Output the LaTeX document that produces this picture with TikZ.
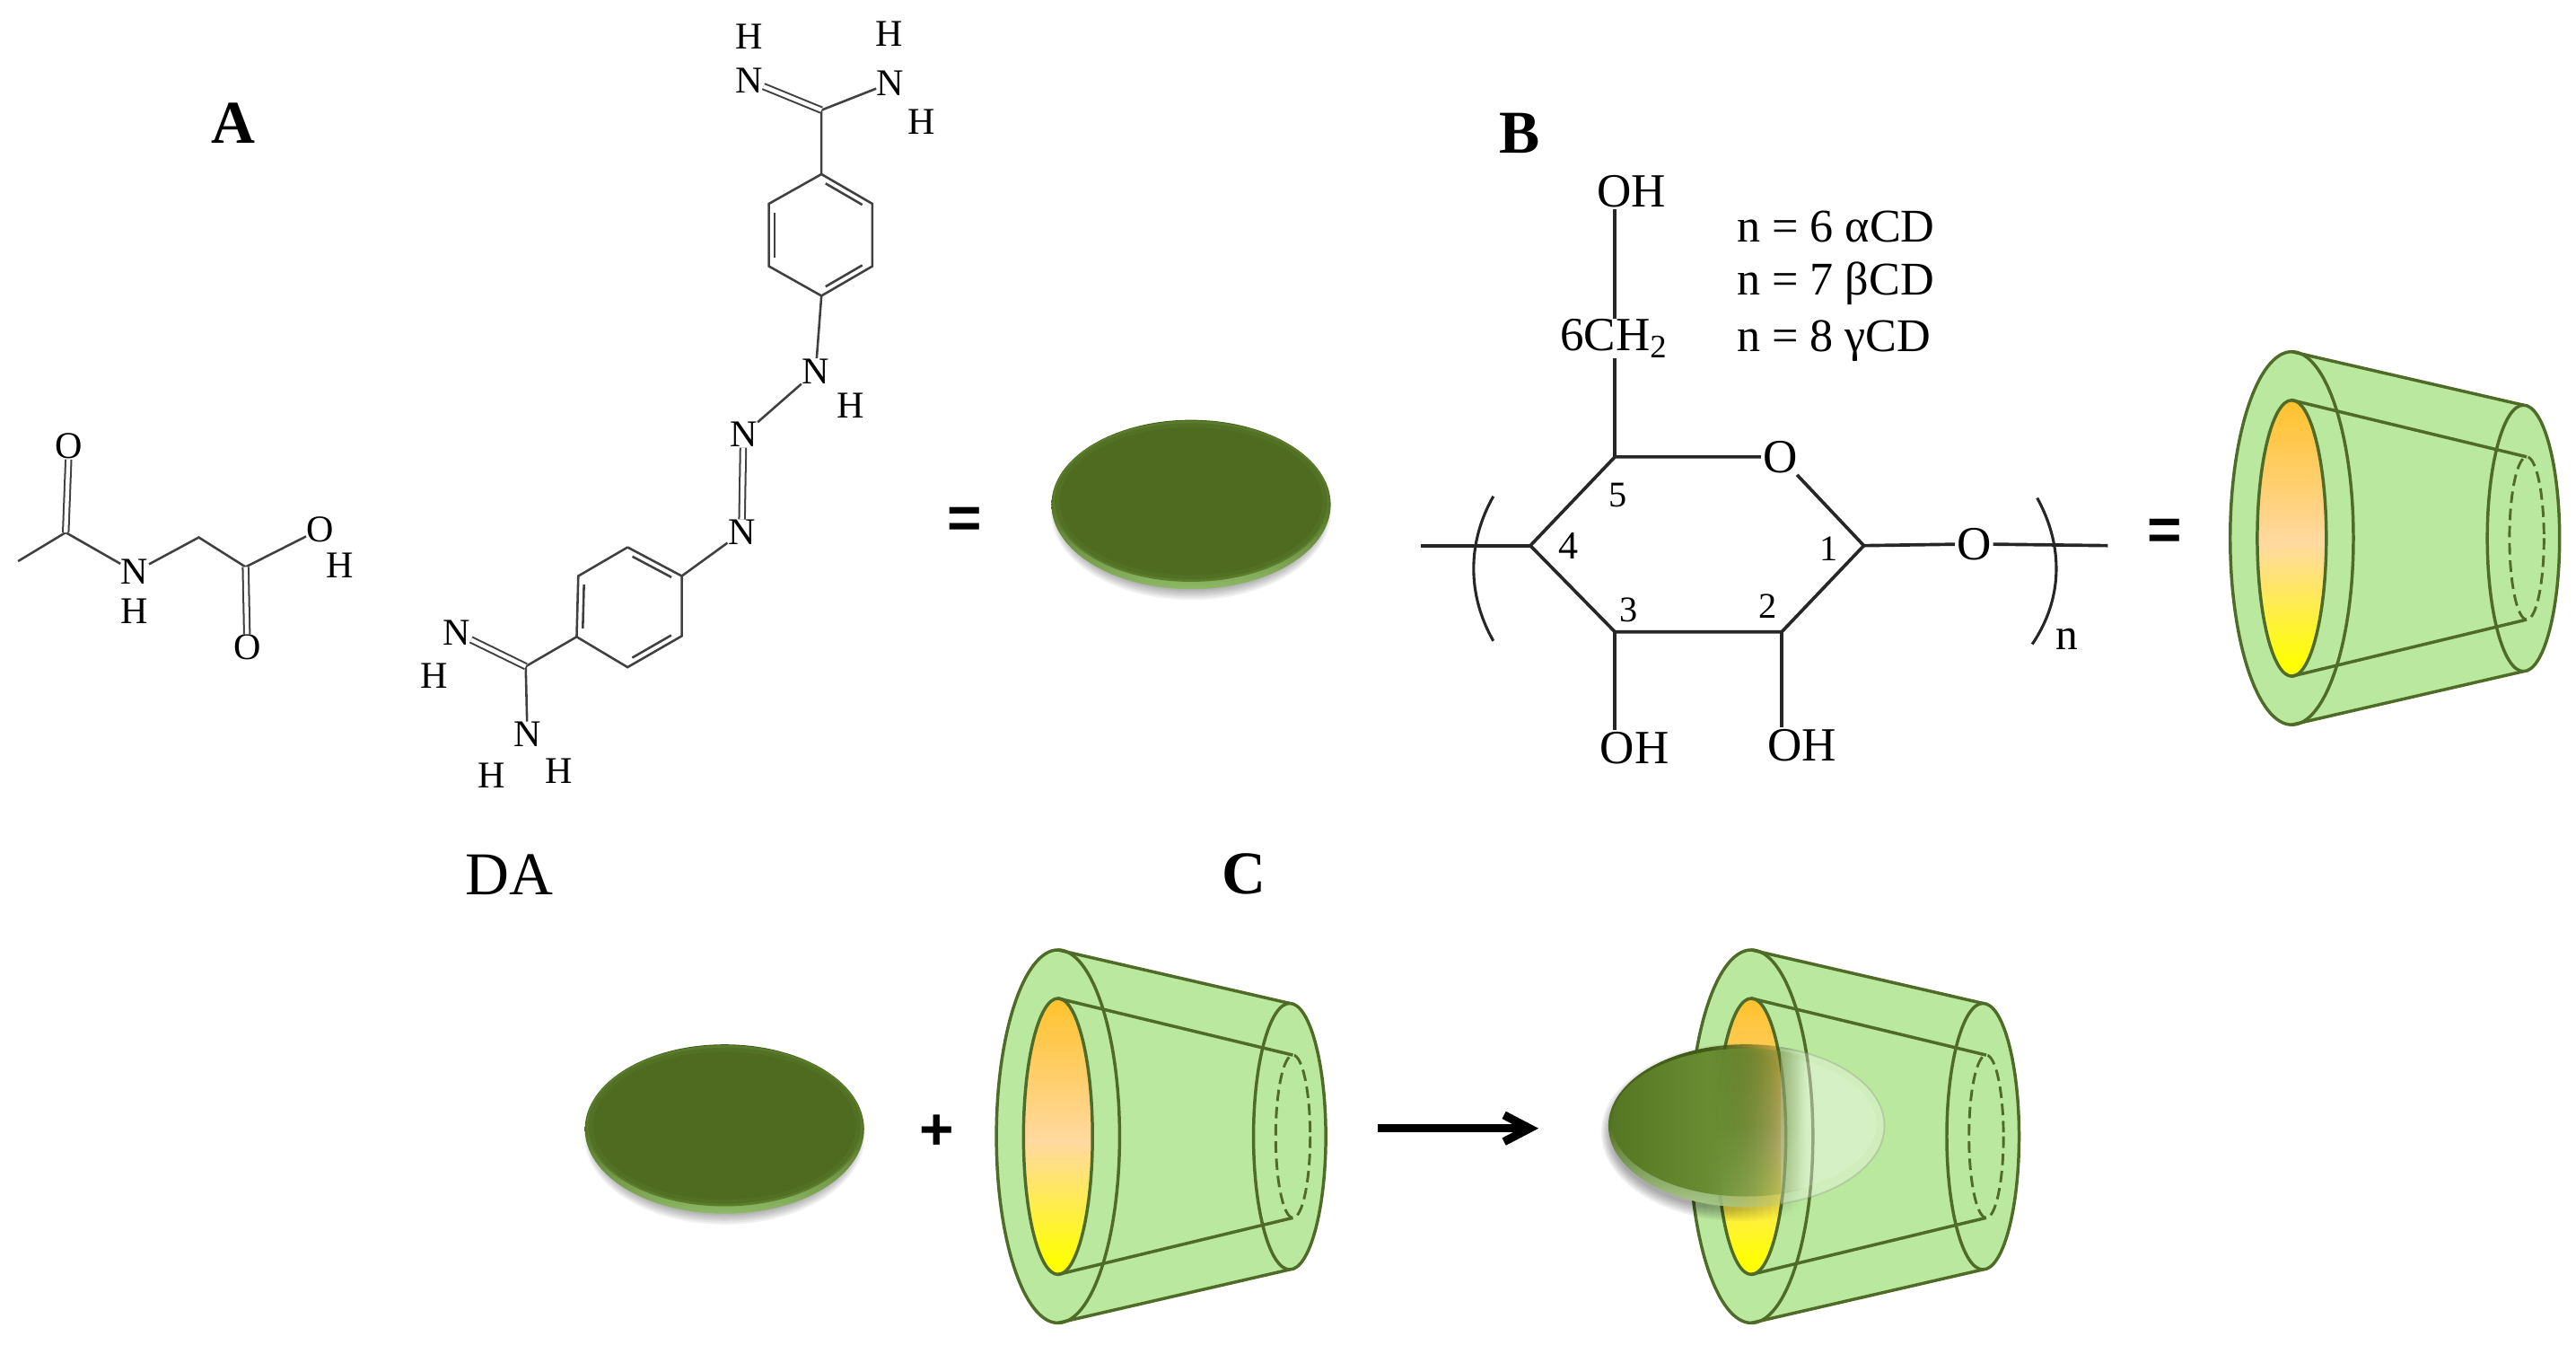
\documentclass[tikz,border=0pt]{standalone}
\usepackage{fontspec}
\setmainfont{Liberation Serif}
\newfontfamily\symfont{Liberation Sans}
\usetikzlibrary{calc,arrows.meta,fadings}
\definecolor{leaf}{HTML}{4E6B20}
\definecolor{leafb}{HTML}{537124}
\definecolor{leafc}{HTML}{5A7C2B}
\definecolor{leafdark}{HTML}{3F5A16}
\definecolor{leafrim}{HTML}{8DB866}
\definecolor{conefill}{HTML}{BBE89F}
\definecolor{coneline}{HTML}{4F6B28}
\definecolor{holetop}{HTML}{FFB900}
\definecolor{holemid}{HTML}{FFD9A0}
\definecolor{holelow}{HTML}{FFFF00}
\definecolor{cxa}{HTML}{486619}
\definecolor{cxb}{HTML}{6B8F33}
\pgfdeclareverticalshading{holeshade}{100bp}{color(0bp)=(holelow);color(27bp)=(holelow);color(49bp)=(holemid);color(85bp)=(holetop);color(100bp)=(holetop)}
\pgfdeclarehorizontalshading{cxshade}{100bp}{color(0bp)=(cxa);color(12bp)=(cxa);color(45bp)=(cxb);color(100bp)=(cxb)}
\pgfdeclarehorizontalshading{hfshade}{100bp}{color(0bp)=(white);color(43bp)=(white);color(61bp)=(black);color(100bp)=(black)}
\pgfdeclarefading{hfade}{\pgfuseshading{hfshade}}
\tikzset{
  atom/.style={font=\fontsize{23}{23}\selectfont,inner sep=0.2pt},
  batom/.style={font=\fontsize{29}{29}\selectfont,inner sep=1pt},
  num/.style={font=\fontsize{22}{22}\selectfont,inner sep=0pt},
  info/.style={font=\fontsize{28.5}{28.5}\selectfont,inner sep=0pt,anchor=west},
  letter/.style={font=\fontsize{37}{37}\selectfont\bfseries,inner sep=0pt},
  plainlabel/.style={font=\fontsize{37}{37}\selectfont,inner sep=0pt},
  sym/.style={font=\symfont\fontsize{36}{36}\selectfont\bfseries,inner sep=0pt},
  bond/.style={line width=1.4pt,color=black!75},
  dbond/.style={double,double distance=2.4pt,line width=1.1pt,color=black!75},
  bbond/.style={line width=2pt,color=black!85},
  coneedge/.style={line width=1.9pt,color=coneline}
}
\newcommand{\dblb}[3]{\draw[bond] ($(#1)!.14!(#2)!3.6pt!#3:(#2)$) -- ($(#2)!.14!(#1)!3.6pt!-#3:(#1)$);}
\newcommand{\conepic}[2]{%
  \begin{scope}[shift={(#1,#2)}]
    \fill[conefill] (141,0) ellipse [x radius=22,y radius=81];
    \fill[conefill] (0,-113.5) -- (141,-81) -- (141,81) -- (0,113.5) -- cycle;
    \fill[conefill] (0,0) ellipse [x radius=37.5,y radius=113.5];
    \draw[coneedge] (0,-113.5) -- (141,-81);
    \draw[coneedge] (0,113.5) -- (141,81);
    \draw[coneedge] (0,0) ellipse [x radius=37.5,y radius=113.5];
    \draw[coneedge] (141,0) ellipse [x radius=22,y radius=81];
    \draw[coneedge,shading=holeshade,shading angle=0] (0,0) ellipse [x radius=21,y radius=84];
    \draw[coneedge,line width=1.6pt,dash pattern=on 7pt off 3.5pt] (143,0) ellipse [x radius=10.5,y radius=49.5];
    \draw[coneedge] (0,-84) -- (143,-49.5);
    \draw[coneedge] (0,84) -- (143,49.5);
  \end{scope}}
\newcommand{\drugshadow}[2]{%
  \foreach \s in {0,1,...,6}{\fill[black,opacity=.055] (#1,#2+4) ellipse [x radius=80+\s*.9,y radius=47.5+\s*1.1];}}
\newcommand{\drug}[2]{%
  \drugshadow{#1}{#2}
  \shade[top color=leafdark,bottom color=leafrim,middle color=leafb] (#1,#2) ellipse [x radius=85,y radius=51.5];
  \fill[leafc] (#1,#2-2) ellipse [x radius=84,y radius=49];
  \fill[leafb] (#1,#2-2) ellipse [x radius=83,y radius=47.5];
  \fill[leaf] (#1,#2-2) ellipse [x radius=80,y radius=45];}
\begin{document}
\begin{tikzpicture}[x=1pt,y=-1pt]
\useasboundingbox (0,0) rectangle (1568,818.4);
% labels
\node[letter] (lA) at (142,75) {A};
\node[letter] (lB) at (925,81) {B};
\node[letter] (lC) at (757,532) {C};
\node[plainlabel] (lDA) at (310,532) {DA};
% molecule 1
\coordinate (m1) at (11,341.5);
\coordinate (c1) at (40,324);
\coordinate (c2) at (121,327);
\coordinate (c3) at (149.5,345);
\node[atom] (o1) at (42,271.5) {O};
\node[atom] (n1) at (82,348) {N};
\node[atom] (h1) at (82,372) {H};
\node[atom] (o2) at (195,322) {O};
\node[atom] (h2) at (207,344) {H};
\node[atom] (o3) at (150.5,394) {O};
\draw[bond] (m1) -- (c1) -- (n1) -- (c2) -- (c3) -- (o2);
\draw[dbond] (c1) -- (o1);
\draw[dbond] (c3) -- (o3);
% molecule 2
\node[atom] (h3) at (456,22) {H};
\node[atom] (h4) at (541,20.5) {H};
\node[atom] (n2) at (456,49) {N};
\node[atom] (n3) at (542,50.5) {N};
\node[atom] (h5) at (561,74) {H};
\coordinate (c4) at (500,67);
\coordinate (r1) at (500,106);
\coordinate (r2) at (531,124);
\coordinate (r3) at (531,162);
\coordinate (r4) at (500,180);
\coordinate (r5) at (468,162);
\coordinate (r6) at (468,124);
\node[atom] (n4) at (496.5,226) {N};
\node[atom] (h6) at (517.5,247) {H};
\node[atom] (n5) at (452.5,264.5) {N};
\node[atom] (n6) at (451.5,324) {N};
\coordinate (s1) at (382,333);
\coordinate (s2) at (415,350.5);
\coordinate (s3) at (415,387);
\coordinate (s4) at (382,406);
\coordinate (s5) at (351,387.5);
\coordinate (s6) at (352,350.5);
\coordinate (c5) at (320,405.5);
\node[atom] (n7) at (278,385) {N};
\node[atom] (h7) at (264,411) {H};
\node[atom] (n8) at (321,447) {N};
\node[atom] (h8) at (299,472) {H};
\node[atom] (h9) at (340,469) {H};
\draw[bond] (n3) -- (c4) -- (r1);
\draw[dbond] (n2) -- (c4);
\draw[bond] (r1) -- (r2) -- (r3) -- (r4) -- (r5) -- (r6) -- (r1);
\dblb{r1}{r2}{-90}\dblb{r3}{r4}{-90}\dblb{r5}{r6}{-90}
\draw[bond] (r4) -- (n4) -- (n5);
\draw[dbond] (n5) -- (n6);
\draw[bond] (n6) -- (s2);
\draw[bond] (s1) -- (s2) -- (s3) -- (s4) -- (s5) -- (s6) -- (s1);
\dblb{s1}{s2}{-90}\dblb{s3}{s4}{-90}\dblb{s5}{s6}{-90}
\draw[bond] (s5) -- (c5) -- (n8);
\draw[dbond] (n7) -- (c5);
% equals and drug
\node[sym] (eq1) at (587,318) {=};
\drug{725}{307}
% cyclodextrin unit
\node[batom] (oh1) at (993,116.5) {OH};
\node[batom,inner sep=0pt] (ch2) at (982,206) {6CH\raisebox{-4pt}{\fontsize{20}{20}\selectfont 2}};
\coordinate (k5) at (983,278);
\node[batom] (orr) at (1083.5,278) {O};
\coordinate (k1) at (1134.5,332);
\coordinate (k2) at (1084.5,384.5);
\coordinate (k3) at (983,384.5);
\coordinate (k4) at (931.5,332);
\coordinate (eL) at (865,332);
\node[batom] (oex) at (1201.5,331) {O};
\coordinate (eR) at (1283,332);
\node[batom] (oh3) at (995,455) {OH};
\node[batom] (oh2) at (1097,453.5) {OH};
\draw[bbond] (k5 |- oh1.south) -- (k5 |- ch2.north);
\draw[bbond] (k5 |- ch2.south) -- (k5);
\draw[bbond] (k5) -- (orr) -- (k1) -- (k2) -- (k3) -- (k4) -- (k5);
\draw[bbond] (eL) -- (k4);
\draw[bbond] (k1) -- (oex) -- (eR);
\draw[bbond] (k3) -- (k3 |- oh3.north);
\draw[bbond] (k2) -- (k2 |- oh2.north);
\draw[line width=1.7pt,color=black!85] (909,302) .. controls (893,330) and (893,362) .. (909,390);
\draw[line width=1.7pt,color=black!85] (1240,303) .. controls (1256,332) and (1256,364) .. (1237,392);
\node[num] (nu5) at (985,301.5) {5};
\node[num,font=\fontsize{24}{24}\selectfont] (nu4) at (954.5,332) {4};
\node[num] (nu1) at (1113,334) {1};
\node[num] (nu3) at (991.5,371) {3};
\node[num] (nu2) at (1076,369) {2};
\node[info,font=\fontsize{27}{27}\selectfont] (nsub) at (1251,389) {n};
\node[info] (alpha) at (1057,138) {n = 6 αCD};
\node[info] (beta) at (1057,172.5) {n = 7 βCD};
\node[info] (gamma) at (1057,207.5) {n = 8 γCD};
\node[sym] (eq2) at (1317.5,325) {=};
\conepic{1395}{327.5}
% reaction
\drug{441}{687}
\node[sym] (plus) at (570.5,689) {+};
\conepic{644}{691.5}
\coordinate (ar1) at (838.5,686.6);
\coordinate (ar2) at (931,686.6);
\coordinate (ar3) at (915.5,678.5);
\coordinate (ar4) at (915.5,694.7);
\begin{scope}[shift={(0,3)},black!40,line width=5pt,line join=miter]
  \draw (ar1) -- ($(ar2)+(-3,0)$);
  \draw (ar3) -- (ar2) -- (ar4);
\end{scope}
\draw[line width=5pt] (ar1) -- ($(ar2)+(-3,0)$);
\draw[line width=5pt,line join=miter] (ar3) -- (ar2) -- (ar4);
\conepic{1066}{691.5}
% complex
\foreach \s in {0,1,...,6}{\path[path fading=hfade,fit fading=true,fill=black,fill opacity=.055] (1060,689) ellipse [x radius=80+\s*.9,y radius=47.5+\s*1.1];}
\begin{scope}
  \clip (1084,620) rectangle (1160,760);
  \fill[white,opacity=.3] (1063,685) ellipse [x radius=84,y radius=49];
  \fill[white,opacity=.14] (1063,684) ellipse [x radius=79,y radius=43];
  \draw[gray,opacity=.28,line width=1pt] (1063,685) ellipse [x radius=84,y radius=49];
\end{scope}
\path[path fading=hfade,fit fading=true,top color=leafdark,bottom color=leafrim!75!white,middle color=leafb] (1063,685) ellipse [x radius=84,y radius=49.5];
\path[path fading=hfade,fit fading=true,shading=cxshade,shading angle=0] (1062.5,683) ellipse [x radius=81.5,y radius=45];
\end{tikzpicture}
\end{document}
